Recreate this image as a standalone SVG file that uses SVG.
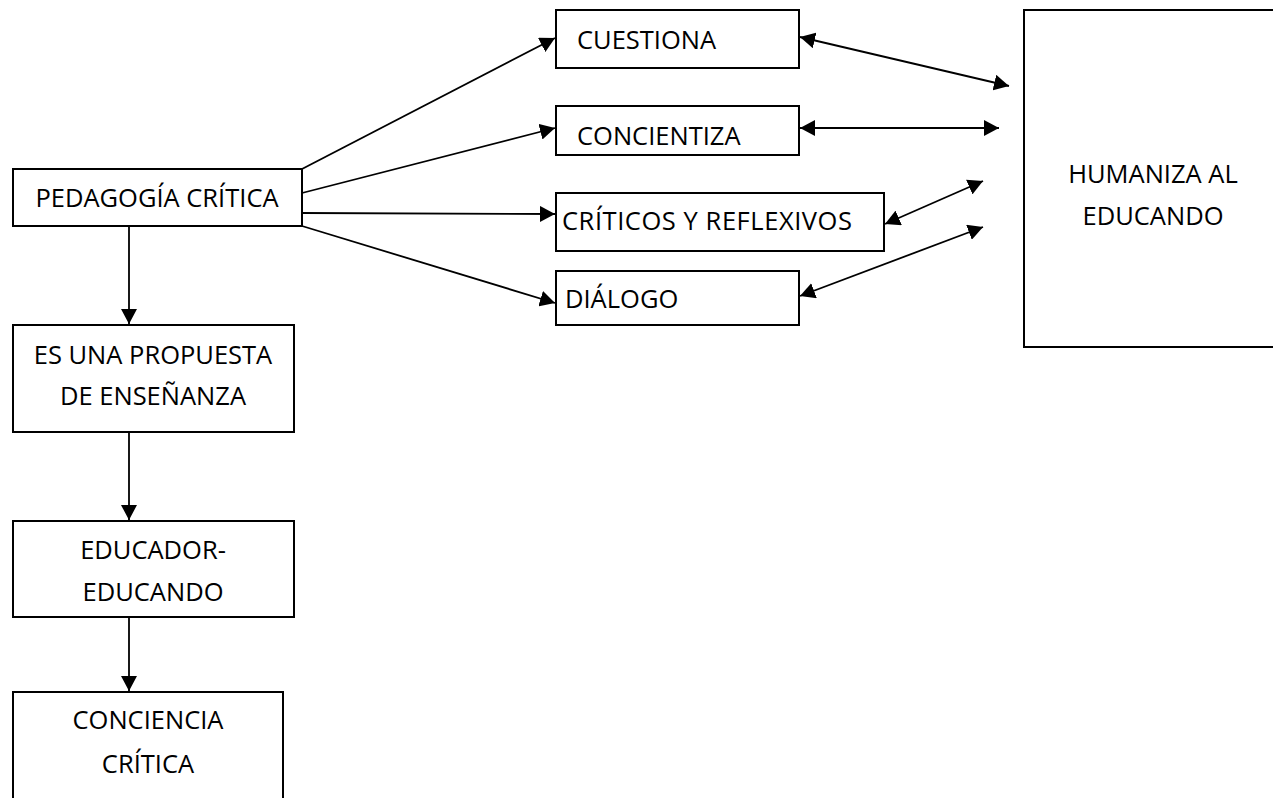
<svg xmlns="http://www.w3.org/2000/svg" width="1273" height="798" viewBox="0 0 1273 798">
<style>
.box{fill:#fff;stroke:#000;stroke-width:2}
.t{font-family:"Open Sans","Liberation Sans",sans-serif;font-size:25.5px;fill:#000}
.c{text-anchor:middle}
.ln{stroke:#000;stroke-width:1.8;fill:none}
</style>
<defs>
<marker id="ah" markerUnits="userSpaceOnUse" markerWidth="16" markerHeight="16" refX="15" refY="8" orient="auto-start-reverse" viewBox="0 0 16 16">
<path d="M0,0 L15,8 L0,16 z" fill="#000"/>
</marker>
</defs>
<rect width="1273" height="798" fill="#fff"/>
<g id="connectors">
<line class="ln" x1="129" y1="226" x2="129" y2="324" marker-end="url(#ah)"/>
<line class="ln" x1="129" y1="432" x2="129" y2="520" marker-end="url(#ah)"/>
<line class="ln" x1="129" y1="617" x2="129" y2="691" marker-end="url(#ah)"/>
<line class="ln" x1="302" y1="169" x2="555" y2="38" marker-end="url(#ah)"/>
<line class="ln" x1="302" y1="193" x2="555" y2="128" marker-end="url(#ah)"/>
<line class="ln" x1="302" y1="213" x2="555" y2="214" marker-end="url(#ah)"/>
<line class="ln" x1="302" y1="226" x2="555" y2="303" marker-end="url(#ah)"/>
<line class="ln" x1="800" y1="37" x2="1009" y2="86" marker-start="url(#ah)" marker-end="url(#ah)"/>
<line class="ln" x1="800" y1="128" x2="999" y2="128" marker-start="url(#ah)" marker-end="url(#ah)"/>
<line class="ln" x1="885" y1="224" x2="983" y2="181" marker-start="url(#ah)" marker-end="url(#ah)"/>
<line class="ln" x1="800" y1="296" x2="983" y2="227" marker-start="url(#ah)" marker-end="url(#ah)"/>
</g>
<g id="pedagogia">
<rect class="box" x="13" y="169" width="289" height="57"/>
<text class="t c" x="157" y="207">PEDAGOGÍA CRÍTICA</text>
</g>
<g id="propuesta">
<rect class="box" x="13" y="325" width="281" height="107"/>
<text class="t c" x="153" y="364">ES UNA PROPUESTA</text>
<text class="t c" x="153" y="405">DE ENSEÑANZA</text>
</g>
<g id="educador">
<rect class="box" x="13" y="521" width="281" height="96"/>
<text class="t c" x="153" y="559">EDUCADOR-</text>
<text class="t c" x="153" y="601">EDUCANDO</text>
</g>
<g id="conciencia">
<rect class="box" x="13" y="692" width="270" height="120"/>
<text class="t c" x="148" y="729">CONCIENCIA</text>
<text class="t c" x="148" y="773">CRÍTICA</text>
</g>
<g id="cuestiona">
<rect class="box" x="556" y="10" width="243" height="58"/>
<text class="t" x="577" y="49">CUESTIONA</text>
</g>
<g id="concientiza">
<rect class="box" x="556" y="106" width="243" height="49"/>
<text class="t" x="577" y="145">CONCIENTIZA</text>
</g>
<g id="criticos">
<rect class="box" x="556" y="193" width="328" height="58"/>
<text class="t" x="562" y="230" textLength="290" lengthAdjust="spacing">CRÍTICOS Y REFLEXIVOS</text>
</g>
<g id="dialogo">
<rect class="box" x="556" y="271" width="243" height="54"/>
<text class="t" x="565" y="308">DIÁLOGO</text>
</g>
<g id="humaniza">
<rect class="box" x="1024" y="10" width="260" height="337"/>
<text class="t c" x="1153" y="183">HUMANIZA AL</text>
<text class="t c" x="1153" y="225">EDUCANDO</text>
</g>
</svg>
